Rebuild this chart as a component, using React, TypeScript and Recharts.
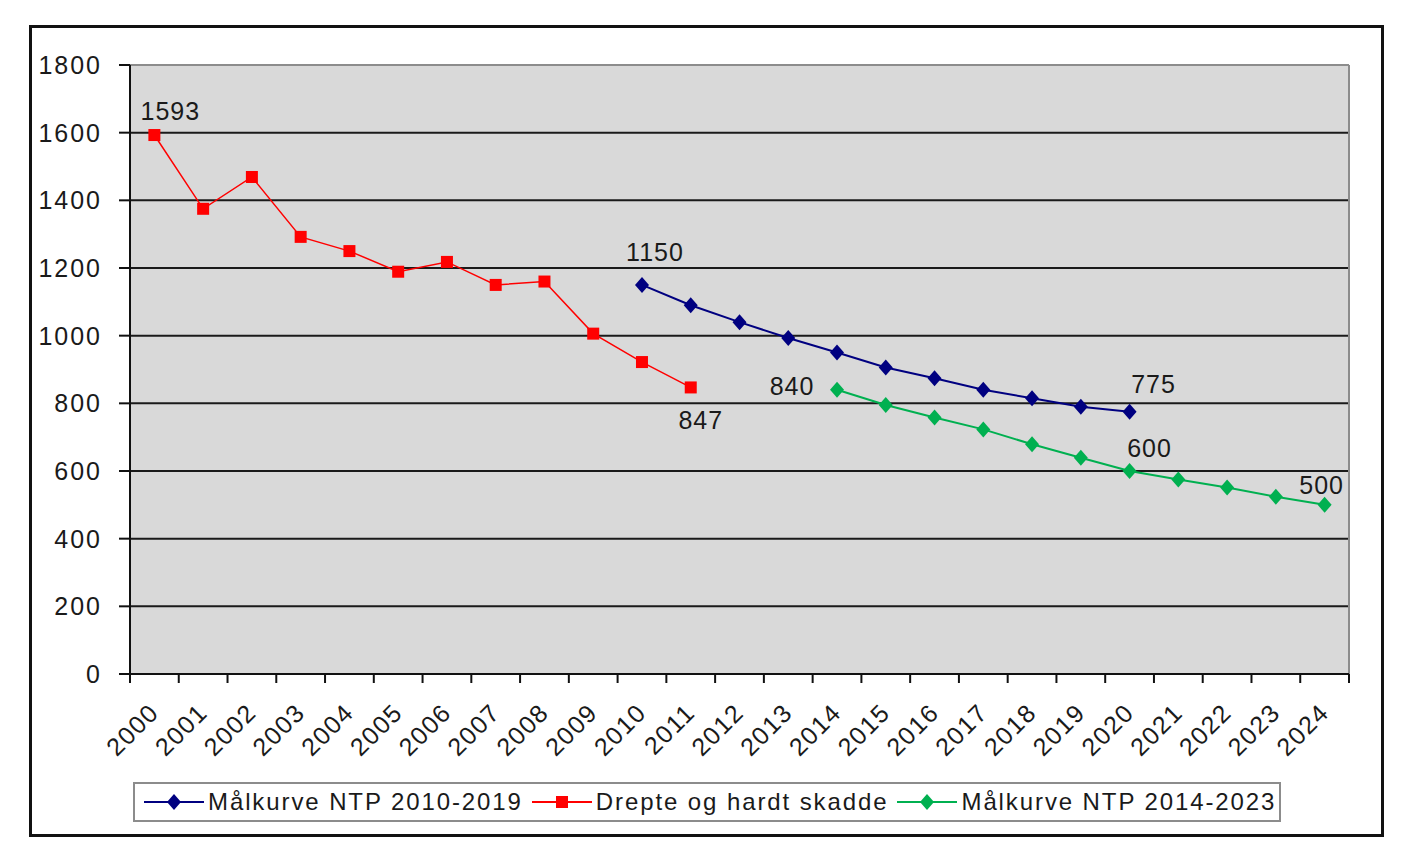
import React from 'react';
import {
  LineChart,
  Line,
  XAxis,
  YAxis,
  CartesianGrid,
  ReferenceLine,
  LabelList,
} from 'recharts';

const YEARS = [
  2000, 2001, 2002, 2003, 2004, 2005, 2006, 2007, 2008, 2009, 2010, 2011, 2012,
  2013, 2014, 2015, 2016, 2017, 2018, 2019, 2020, 2021, 2022, 2023, 2024,
];

// Drepte og hardt skadde, 2000-2011
const DREPTE = [1593, 1375, 1469, 1292, 1250, 1189, 1218, 1150, 1160, 1006, 922, 847];
// Målkurve NTP 2010-2019, plotted 2010-2020
const NTP_2010 = [1150, 1090, 1040, 993, 950, 906, 874, 840, 815, 790, 775];
// Målkurve NTP 2014-2023, plotted 2014-2024
const NTP_2014 = [840, 795, 758, 723, 679, 639, 600, 575, 551, 524, 500];

const Y_TICKS = [0, 200, 400, 600, 800, 1000, 1200, 1400, 1600, 1800];

const NTP_2010_START = 2010;
const NTP_2014_START = 2014;

const data = YEARS.map((year, i) => ({
  year,
  drepte: i < DREPTE.length ? DREPTE[i] : null,
  ntp2010:
    year >= NTP_2010_START && year - NTP_2010_START < NTP_2010.length
      ? NTP_2010[year - NTP_2010_START]
      : null,
  ntp2014:
    year >= NTP_2014_START && year - NTP_2014_START < NTP_2014.length
      ? NTP_2014[year - NTP_2014_START]
      : null,
}));

const X_MIN = YEARS[0] - 0.5;
const X_MAX = YEARS[YEARS.length - 1] + 0.5;

const FONT = '"Liberation Sans", Arial, sans-serif';
const RED = '#ff0000';
const NAVY = '#000080';
const GREEN = '#00b050';
const TEXT = '#1a1a1a';

const CHART_W = 1349;
const CHART_H = 806;
const MARGIN = { top: 37, right: 32, left: 0, bottom: 0 };
const Y_AXIS_W = 98;
const BAND = (CHART_W - MARGIN.left - MARGIN.right - Y_AXIS_W) / YEARS.length;

function squareDot(color: string) {
  return (props: any) => {
    const { cx, cy, index, value } = props;
    if (cx == null || cy == null || value == null) return <g key={`s-${index}`} />;
    return <rect key={`s-${index}`} x={cx - 6} y={cy - 6} width={12} height={12} fill={color} />;
  };
}

function diamondDot(color: string) {
  return (props: any) => {
    const { cx, cy, index, value } = props;
    if (cx == null || cy == null || value == null) return <g key={`d-${index}`} />;
    return (
      <polygon
        key={`d-${index}`}
        points={`${cx},${cy - 8} ${cx + 7},${cy} ${cx},${cy + 8} ${cx - 7},${cy}`}
        fill={color}
      />
    );
  };
}

// label offsets (dx, dy) per year, relative to the point
function valueLabel(offsets: { [year: number]: [number, number] }) {
  return (props: any) => {
    const { x, y, value, index } = props;
    const year = YEARS[index];
    const off = offsets[year];
    if (!off || value == null || x == null || y == null) return null;
    return (
      <text
        x={x + off[0]}
        y={y + off[1]}
        textAnchor="middle"
        fontSize={25}
        fontFamily={FONT}
        letterSpacing={1}
        fill={TEXT}
      >
        {value}
      </text>
    );
  };
}

// year label + tick marks on the category boundaries (Excel style)
function YearTick(props: any) {
  const { x, y, payload, index } = props;
  const top = y - 8;
  const ax = x + 6;
  const ay = y + 32;
  const left = x - BAND / 2;
  const right = x + BAND / 2;
  return (
    <g>
      <line x1={left} y1={top} x2={left} y2={top + 9} stroke="#111" strokeWidth={2} />
      {index === YEARS.length - 1 && (
        <line x1={right} y1={top} x2={right} y2={top + 9} stroke="#111" strokeWidth={2} />
      )}
      <text
        x={ax}
        y={ay}
        transform={`rotate(-45, ${ax}, ${ay})`}
        textAnchor="end"
        fontSize={25}
        fontFamily={FONT}
        letterSpacing={1.5}
        fill={TEXT}
      >
        {payload.value}
      </text>
    </g>
  );
}

function LegendSample({ color, shape }: { color: string; shape: 'diamond' | 'square' }) {
  return (
    <svg width={60} height={20} style={{ display: 'block' }}>
      <line x1={0} y1={10} x2={60} y2={10} stroke={color} strokeWidth={2} />
      {shape === 'square' ? (
        <rect x={24} y={4} width={12} height={12} fill={color} />
      ) : (
        <polygon points="30,2 37,10 30,18 23,10" fill={color} />
      )}
    </svg>
  );
}

const LEGEND = [
  { name: 'Målkurve NTP 2010-2019', color: NAVY, shape: 'diamond' as const },
  { name: 'Drepte og hardt skadde', color: RED, shape: 'square' as const },
  { name: 'Målkurve NTP 2014-2023', color: GREEN, shape: 'diamond' as const },
];

export default function App() {
  return (
    <div
      style={{
        position: 'absolute',
        left: 29,
        top: 25,
        width: 1355,
        height: 812,
        border: '3px solid #111',
        boxSizing: 'border-box',
        background: '#fff',
        fontFamily: FONT,
      }}
    >
      <LineChart width={CHART_W} height={CHART_H} data={data} margin={MARGIN}>
        <CartesianGrid
          vertical={false}
          fill="#d9d9d9"
          fillOpacity={1}
          stroke="#1a1a1a"
          strokeWidth={2}
        />
        <XAxis
          dataKey="year"
          type="number"
          domain={[X_MIN, X_MAX]}
          ticks={YEARS}
          interval={0}
          height={160}
          tickSize={0}
          tickMargin={8}
          tick={<YearTick />}
          tickLine={false}
          axisLine={{ stroke: '#111', strokeWidth: 2 }}
        />
        <YAxis
          domain={[0, 1800]}
          ticks={Y_TICKS}
          interval={0}
          width={Y_AXIS_W}
          tickSize={11}
          tickMargin={17}
          tick={{ fontSize: 25, fontFamily: FONT, fill: TEXT, letterSpacing: 2 }}
          tickLine={{ stroke: '#111', strokeWidth: 2 }}
          axisLine={{ stroke: '#111', strokeWidth: 2 }}
        />
        <ReferenceLine y={1800} stroke="#8c8c8c" strokeWidth={2} />
        <ReferenceLine x={X_MAX} stroke="#8c8c8c" strokeWidth={2} />
        <Line
          dataKey="drepte"
          stroke={RED}
          strokeWidth={1.5}
          dot={squareDot(RED)}
          activeDot={false}
          isAnimationActive={false}
        >
          <LabelList dataKey="drepte" content={valueLabel({ 2000: [16, -15], 2011: [10, 42] })} />
        </Line>
        <Line
          dataKey="ntp2010"
          stroke={NAVY}
          strokeWidth={2}
          dot={diamondDot(NAVY)}
          activeDot={false}
          isAnimationActive={false}
        >
          <LabelList dataKey="ntp2010" content={valueLabel({ 2010: [13, -24], 2020: [24, -19] })} />
        </Line>
        <Line
          dataKey="ntp2014"
          stroke={GREEN}
          strokeWidth={2}
          dot={diamondDot(GREEN)}
          activeDot={false}
          isAnimationActive={false}
        >
          <LabelList
            dataKey="ntp2014"
            content={valueLabel({ 2014: [-45, 5], 2020: [20, -14], 2024: [-3, -11] })}
          />
        </Line>
      </LineChart>
      <div
        style={{
          position: 'absolute',
          left: 101,
          top: 754,
          width: 1148,
          height: 40,
          border: '2px solid #8c8c8c',
          boxSizing: 'border-box',
          background: '#fff',
          display: 'flex',
          alignItems: 'center',
          paddingLeft: 9,
        }}
      >
        {LEGEND.map((item) => (
          <div key={item.name} style={{ display: 'flex', alignItems: 'center', marginRight: 9 }}>
            <LegendSample color={item.color} shape={item.shape} />
            <span
              style={{
                fontSize: 24,
                letterSpacing: 1.9,
                color: TEXT,
                marginLeft: 4,
                whiteSpace: 'nowrap',
              }}
            >
              {item.name}
            </span>
          </div>
        ))}
      </div>
    </div>
  );
}
